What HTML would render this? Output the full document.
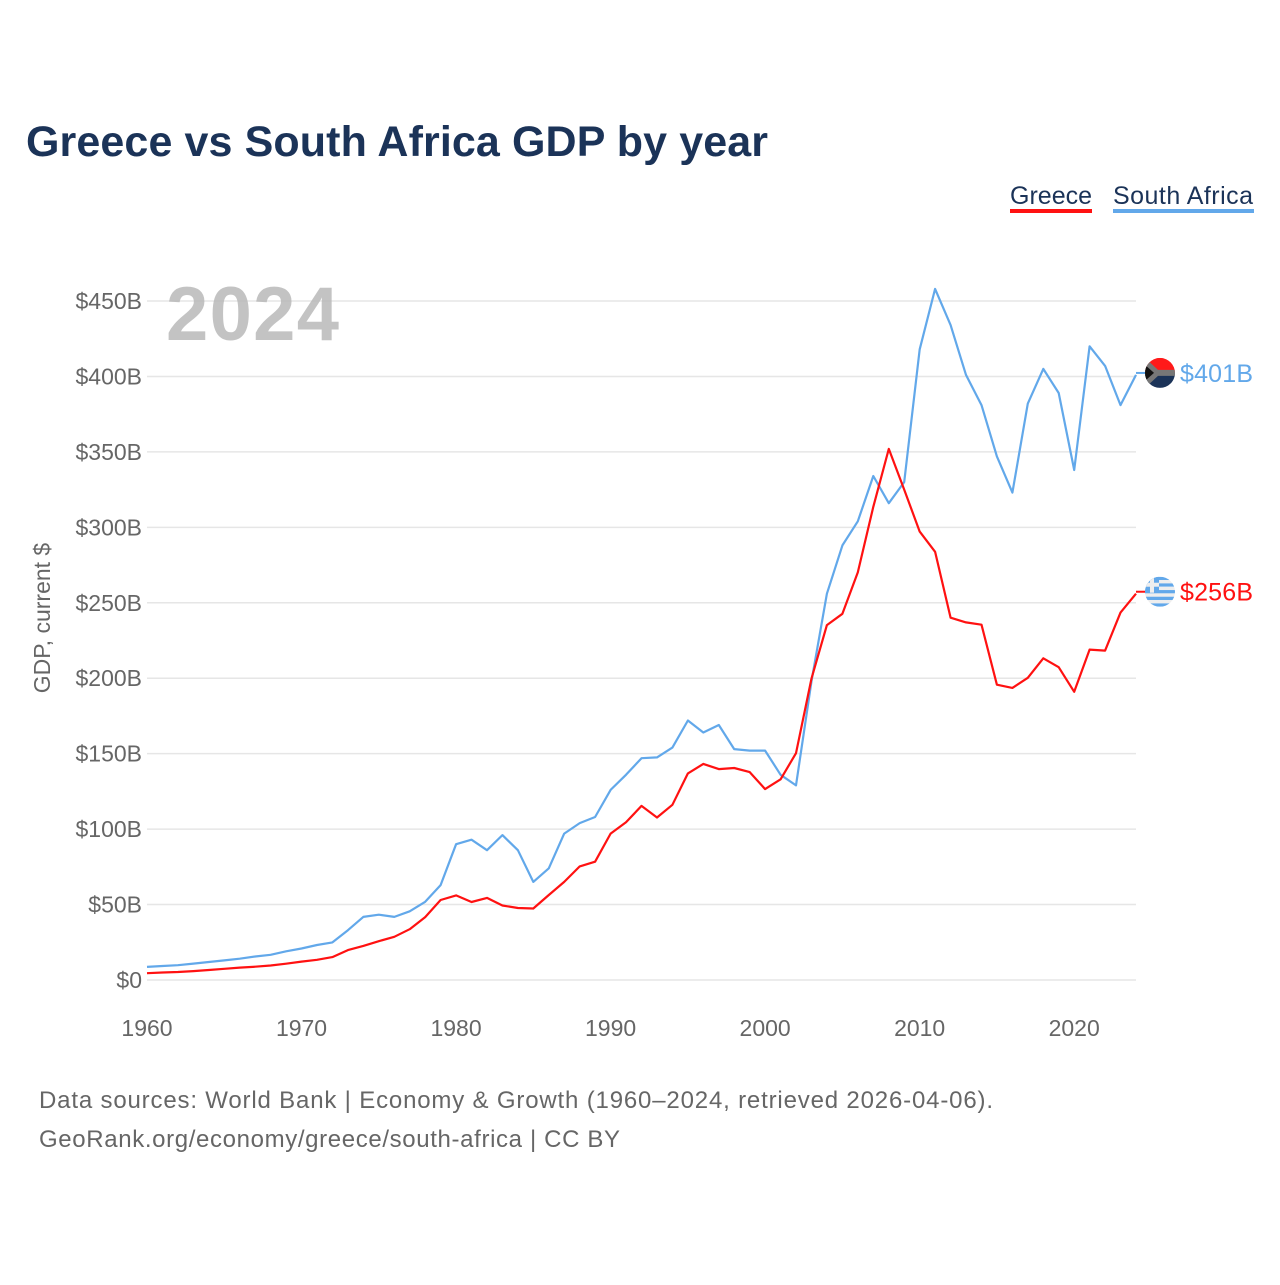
<!DOCTYPE html>
<html><head><meta charset="utf-8">
<style>
body{margin:0;background:#fff;}
svg text{font-family:"Liberation Sans",sans-serif;}
</style></head>
<body>
<svg id="chart" width="1280" height="1280" viewBox="0 0 1280 1280" xmlns="http://www.w3.org/2000/svg">
<rect width="1280" height="1280" fill="#fff"/>
<text x="26" y="156" font-size="43" font-weight="bold" fill="#1b3358" textLength="742">Greece vs South Africa GDP by year</text>
<g>
<g>
<text x="1010" y="204" font-size="25" fill="#1b3358" textLength="82">Greece</text>
<rect x="1010" y="209" width="82" height="4" fill="#ff1111"/>
</g>
<g>
<text x="1113" y="204" font-size="25" fill="#1b3358" textLength="140">South Africa</text>
<rect x="1113" y="209" width="141" height="4" fill="#62a8ea"/>
</g>
</g>
<g id="grid"></g>
<g id="yticks"></g>
<g id="xticks"></g>
<text x="166" y="340" font-size="76" font-weight="bold" fill="#b8b8b8" fill-opacity="0.85" textLength="173">2024</text>
<text transform="translate(50,618) rotate(-90)" text-anchor="middle" font-size="23" fill="#666">GDP, current $</text>
<g id="series"></g>
<g id="endlabels"></g>
<text x="39" y="1108" font-size="24" fill="#666" textLength="954">Data sources: World Bank | Economy &amp; Growth (1960–2024, retrieved 2026-04-06).</text>
<text x="39" y="1147" font-size="24" fill="#666" textLength="581">GeoRank.org/economy/greece/south-africa | CC BY</text>
</svg>
<script>
const years = Array.from({length:65},(_, i)=>1960+i);
const greece = [4.5,5.0,5.3,5.9,6.6,7.4,8.2,8.8,9.6,10.8,12.2,13.4,15.2,19.8,22.6,25.7,28.6,33.7,41.7,53.0,56.1,51.7,54.4,49.4,47.7,47.4,56.3,65.0,75.3,78.4,97.0,104.5,115.4,107.7,116.1,136.9,143.2,139.8,140.5,137.8,126.5,133.0,150.3,199.8,235.2,242.7,270.1,313.6,352.0,325.0,297.2,283.8,240.1,237.0,235.5,195.7,193.6,200.3,213.2,207.3,191.0,219.0,218.3,243.5,256.0];
const southAfrica = [8.7,9.3,9.8,10.9,11.9,13.0,14.1,15.6,16.7,19.0,20.9,23.2,24.9,33.0,41.8,43.3,41.8,45.5,51.8,62.9,90.0,93.0,86.0,96.0,86.0,65.0,74.0,97.0,104.0,108.0,126.0,136.0,147.0,147.5,154.0,172.0,164.0,169.0,153.0,152.0,152.0,136.0,129.0,198.0,256.0,288.0,304.0,334.0,316.0,330.0,418.0,458.0,434.0,401.0,381.0,347.0,323.0,382.0,405.0,389.0,338.0,420.0,407.0,381.0,401.0];
const yTicks = [0,50,100,150,200,250,300,350,400,450];
const yTickLabels = ["$0","$50B","$100B","$150B","$200B","$250B","$300B","$350B","$400B","$450B"];
const xTicks = [1960,1970,1980,1990,2000,2010,2020];

const NS="http://www.w3.org/2000/svg";
const X0=147,X1=1136,Y0=980,Y450=301;
const xs = y => X0 + (y-1960)*(X1-X0)/(2024-1960);
const ys = v => Y0 - v*(Y0-Y450)/450;
function mk(tag, attrs, parent){const e=document.createElementNS(NS,tag);for(const k in attrs)e.setAttribute(k,attrs[k]);parent.appendChild(e);return e;}
const grid=document.getElementById('grid'), yt=document.getElementById('yticks'), xt=document.getElementById('xticks');
yTicks.forEach((v,i)=>{
  const l=mk('line',{x1:X0,x2:X1,y1:ys(v),y2:ys(v),stroke:'#e6e6e6','stroke-width':1.5},grid);
  
  
  const t=mk('text',{x:142,y:ys(v)+8,'text-anchor':'end','font-size':23,fill:'#666'},yt);
  t.textContent=yTickLabels[i];
  
  
});
xTicks.forEach(y=>{
  const t=mk('text',{x:xs(y),y:1036,'text-anchor':'middle','font-size':23,fill:'#666'},xt);
  t.textContent=y;
  
  
});
const ser=document.getElementById('series');
function line(vals,color,name){
  const d=vals.map((v,i)=>(i?'L':'M')+xs(years[i]).toFixed(1)+','+ys(v).toFixed(1)).join('');
  const p=mk('path',{d:d,fill:'none',stroke:color,'stroke-width':2.2,'stroke-linejoin':'round'},ser);
  
  
}
line(southAfrica,'#62a8ea','line-south-africa');
line(greece,'#ff1111','line-greece');
const el=document.getElementById('endlabels');
function endLabel(vals,color,name,flag){
  const v=vals[vals.length-1], y=ys(v)-2;
  const g=mk('g',{},el);
  
  
  mk('line',{x1:X1,x2:1146,y1:y,y2:y,stroke:color,'stroke-width':2},g);
  const cx=1160;
  const cp='clip-'+name;
  const c=mk('clipPath',{id:cp},g); mk('circle',{cx:cx,cy:y,r:15},c);
  const f=mk('g',{'clip-path':'url(#'+cp+')'},g);
  if(flag==='za'){
    mk('rect',{x:cx-15,y:y-15,width:30,height:15,fill:'#ff1a1a'},f);
    mk('rect',{x:cx-15,y:y,width:30,height:15,fill:'#1b3358'},f);
    mk('polygon',{points:`${cx-15},${y-15} ${cx-2},${y-3} ${cx+15},${y-3} ${cx+15},${y+3} ${cx-2},${y+3} ${cx-15},${y+15}`,fill:'#777'},f);
    mk('polygon',{points:`${cx-15},${y-8} ${cx-6},${y} ${cx-15},${y+8}`,fill:'#111'},f);
  } else {
    for(let i=0;i<9;i++) mk('rect',{x:cx-15,y:y-15+i*30/9,width:30,height:30/9,fill:i%2?'#eee':'#62a8ea'},f);
    mk('rect',{x:cx-15,y:y-15,width:14,height:16,fill:'#62a8ea'},f);
    mk('rect',{x:cx-10,y:y-15,width:4,height:16,fill:'#eee'},f);
    mk('rect',{x:cx-15,y:y-9,width:14,height:4,fill:'#eee'},f);
  }
  const t=mk('text',{x:1180,y:y+9,'font-size':25,fill:color,textLength:73},g);
  t.textContent='$'+Math.round(v)+'B';
}
endLabel(southAfrica,'#62a8ea','end-label-south-africa','za');
endLabel(greece,'#ff1111','end-label-greece','gr');
</script>
</body></html>
